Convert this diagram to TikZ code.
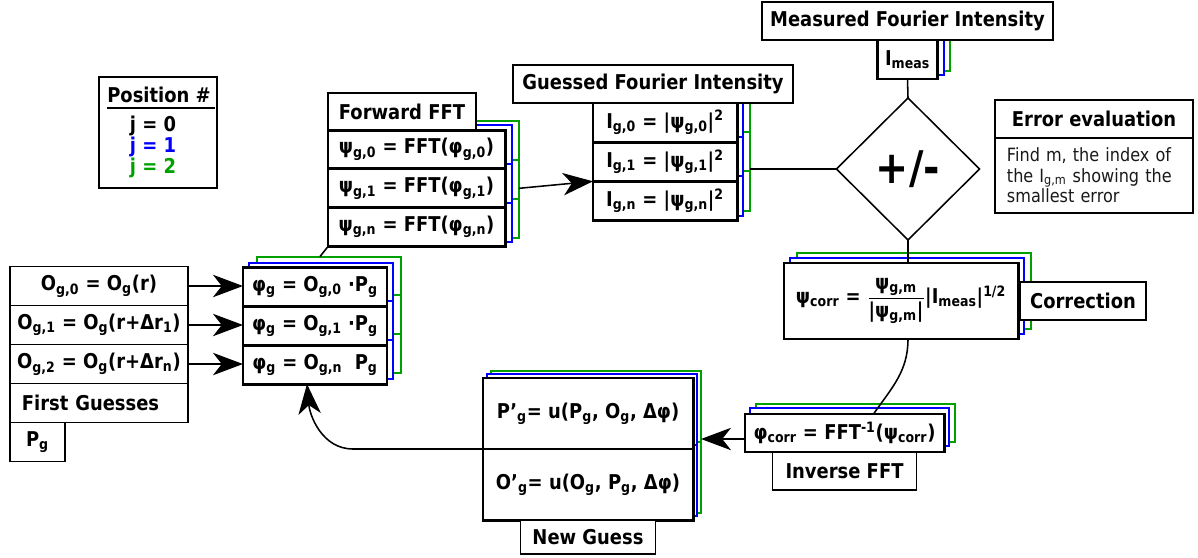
\documentclass[tikz,border=0pt]{standalone}
\usepackage{fontspec}
\setmainfont{DejaVu Sans}[FakeStretch=0.88]
\usetikzlibrary{shapes.geometric,arrows.meta,positioning,calc,backgrounds}

\definecolor{stackblue}{RGB}{0,0,255}
\definecolor{stackgreen}{RGB}{0,160,0}
\newcommand{\sbx}[1]{\textsubscript{#1}}
\newcommand{\spx}[1]{\textsuperscript{#1}}

\begin{document}
\begin{tikzpicture}[
  x=0.025cm, y=-0.025cm,
  font=\fontsize{14.5}{16}\selectfont\bfseries,
  every node/.style={align=center, outer sep=0pt},
  %% --- styles ---
  lbl/.style={draw, line width=1.1pt, fill=white, inner sep=2pt, minimum height=0.95cm},
  blk/.style={draw, line width=2.1pt, fill=white, inner sep=2pt},
  fgrow/.style={draw, line width=1.1pt, fill=white, minimum width=4.45cm,
    minimum height=0.975cm, inner sep=1pt},
  copyb/.style={draw=stackblue, line width=1.4pt, fill=white},
  copyg/.style={draw=stackgreen, line width=1.4pt, fill=white},
  arrow/.style={-{Stealth[length=0.75cm, width=0.56cm, inset=0.22cm]}, line width=1.1pt},
  wire/.style={line width=1.1pt}
]
  \useasboundingbox (0,0) rectangle (1198,558);

  %% --- 1. position legend ---
  \node[draw, line width=1.1pt, minimum width=2.95cm, minimum height=2.775cm] (posbox) at (158,132.5) {};
  \node (postitle) at (159,95) {Position \#};
  \draw[wire] ([shift={(8,31)}]posbox.north west) -- ([shift={(-2,31)}]posbox.north east);
  \node (j0) at (153,126) {j = 0};
  \node[text=stackblue] (j1) at (153,147) {j = 1};
  \node[text=stackgreen] (j2) at (153,168) {j = 2};

  %% --- 2. first guesses ---
  \node[fgrow] (fg0) at (99,286) {O\sbx{g,0} = O\sbx{g}(r)};
  \node[fgrow, below=0pt of fg0] (fg1) {O\sbx{g,1} = O\sbx{g}(r+Δr\sbx{1})};
  \node[fgrow, below=0pt of fg1] (fg2) {O\sbx{g,2} = O\sbx{g}(r+Δr\sbx{n})};
  \node[fgrow, below=0pt of fg2, text width=3.85cm, align=left] (fgt) {First Guesses};
  \node[lbl, anchor=north west, minimum width=1.375cm, minimum height=0.975cm] (pg) at (fgt.south west) {P\sbx{g}};

  %% --- 3. exit waves ---
  \node[blk, minimum width=3.6cm, minimum height=0.97cm] (phi0) at (315,287) {φ\sbx{g} = O\sbx{g,0} ·P\sbx{g}};
  \node[blk, minimum width=3.6cm, minimum height=0.97cm, below=0pt of phi0] (phi1) {φ\sbx{g} = O\sbx{g,1} ·P\sbx{g}};
  \node[blk, minimum width=3.6cm, minimum height=0.97cm, below=0pt of phi1] (phi2) {φ\sbx{g} = O\sbx{g,n} \ P\sbx{g}};

  %% --- 4. forward FFT ---
  \node[blk, minimum width=4.425cm, minimum height=0.97cm] (psi0) at (416.5,149.5) {ψ\sbx{g,0} = FFT(φ\sbx{g,0})};
  \node[blk, minimum width=4.425cm, minimum height=0.97cm, below=0pt of psi0] (psi1) {ψ\sbx{g,1} = FFT(φ\sbx{g,1})};
  \node[blk, minimum width=4.425cm, minimum height=0.97cm, below=0pt of psi1] (psi2) {ψ\sbx{g,n} = FFT(φ\sbx{g,n})};
  \node[lbl, anchor=south west, minimum width=3.7cm, minimum height=0.925cm] (fwd) at (psi0.north west) {Forward FFT};

  %% --- 5. guessed intensity ---
  \node[blk, minimum width=3.6cm, minimum height=0.98cm] (I0) at (665,122.5) {I\sbx{g,0} = |ψ\sbx{g,0}|\spx{2}};
  \node[blk, minimum width=3.6cm, minimum height=0.98cm, below=0pt of I0] (I1) {I\sbx{g,1} = |ψ\sbx{g,1}|\spx{2}};
  \node[blk, minimum width=3.6cm, minimum height=0.98cm, below=0pt of I1] (I2) {I\sbx{g,n} = |ψ\sbx{g,n}|\spx{2}};
  \node[lbl, anchor=south, minimum width=7cm] (guess) at ([shift={(-12,0)}]I0.north) {Guessed Fourier Intensity};

  %% --- 6. measured intensity and comparison ---
  \node[lbl, minimum width=7.275cm] (meas) at (907.5,21) {Measured Fourier Intensity};
  \node[blk, below=0pt of meas, minimum width=1.5cm, minimum height=0.975cm] (Imeas) {I\sbx{meas}};
  \node[draw, diamond, line width=1.1pt, minimum width=3.575cm, minimum height=3.55cm, inner sep=0pt,
        font=\fontsize{32}{32}\selectfont\bfseries] (diam) at (908,169) {+/-};

  \node[lbl, minimum width=4.95cm] (errt) at (1094,119) {Error evaluation};
  \node[draw, line width=1.1pt, below=0pt of errt, minimum width=4.95cm, minimum height=1.875cm,
        text width=4.35cm, align=left, font=\fontsize{13}{14.5}\selectfont, text=black!90] (errb)
        {Find m, the index of\\the I\sbx{g,m} showing the\\smallest error};

  %% --- 7. correction and inverse FFT ---
  \node[blk, minimum width=5.85cm, minimum height=1.9cm] (corr) at (901,301)
        {ψ\sbx{corr} = $\displaystyle\frac{\mbox{ψ\sbx{g,m}}}{\mbox{|ψ\sbx{g,m}|}}$|I\sbx{meas}|\spx{1/2}};
  \node[lbl, right=0.05cm of corr, minimum width=3.15cm] (corrl) {Correction};

  \node[blk, minimum width=4.975cm, minimum height=0.95cm] (inv) at (844.5,433) {φ\sbx{corr} = FFT\spx{-1}(ψ\sbx{corr})};
  \node[lbl, below=0pt of inv, minimum width=3.6cm] (invl) {Inverse FFT};

  %% --- 8. new guess ---
  \node[blk, minimum width=5.25cm, minimum height=1.775cm] (ng0) at (588,413.5) {P'\sbx{g}= u(P\sbx{g}, O\sbx{g}, Δφ)};
  \node[blk, minimum width=5.25cm, minimum height=1.775cm, below=0pt of ng0] (ng1) {O'\sbx{g}= u(O\sbx{g}, P\sbx{g}, Δφ)};
  \node[lbl, below=0pt of ng1, minimum width=3.375cm, minimum height=0.85cm] (ngl) {New Guess};

  %% --- 9. stacked copies for j = 1, 2 ---
  \begin{scope}[on background layer]
    \foreach \n/\dx/\dy in {phi0/14/-11, phi1/14/-11, phi2/14/-11, psi0/14/-9, psi1/14/-9, psi2/14/-9,
                            I0/13/-10, I1/13/-10, I2/13/-10, Imeas/12/-8, corr/13/-10, inv/11/-10,
                            ng0/8/-7, ng1/8/-7}
      \draw[copyg] ([shift={(\dx,\dy)}]\n.south west) rectangle ([shift={(\dx,\dy)}]\n.north east);
    \foreach \n/\dx/\dy in {phi0/6/-5, phi1/6/-5, phi2/6/-5, psi0/7/-5, psi1/7/-5, psi2/7/-5,
                            I0/6/-5, I1/6/-5, I2/6/-5, Imeas/6/-4, corr/6/-5, inv/5/-6,
                            ng0/4/-4, ng1/4/-4}
      \draw[copyb] ([shift={(\dx,\dy)}]\n.south west) rectangle ([shift={(\dx,\dy)}]\n.north east);
  \end{scope}

  %% --- 10. connections ---
  \foreach \s/\t in {fg0/phi0, fg1/phi1, fg2/phi2}
    \draw[arrow] (\s.east) -- (\s.east -| \t.west);

  \coordinate (phig) at ($(psi2.south west |- phi0.north)+(-8,-11)$);
  \draw[wire] (psi2.south west) -- (phig);

  \draw[arrow] ([shift={(14,0)}]psi1.east) -- (I1.south west);

  \coordinate (Igr) at ([shift={(13,0)}]I1.east);
  \draw[wire] (Igr |- diam.west) -- (diam.west);
  \draw[wire] (Imeas.south) -- (diam.north);
  \draw[wire] (diam.south) -- (diam.south |- corr.north);
  \draw[wire] (diam.south |- corr.south) to[out=-90, in=55] ([shift={(29,0)}]inv.north);

  \coordinate (invin) at ([shift={(0,6)}]inv.west);
  \coordinate (ngr) at ([shift={(8,0)}]ng0.east);
  \draw[arrow] (invin) -- (invin -| ngr);

  \draw[arrow] (ng0.south west) -- ++(-130,0) to[out=180, in=-85] ([shift={(-8,0)}]phi2.south);

\end{tikzpicture}
\end{document}
